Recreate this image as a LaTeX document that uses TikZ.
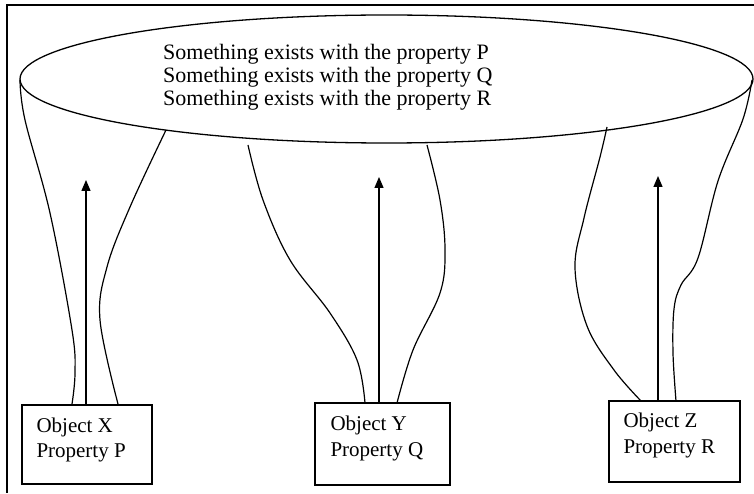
\documentclass[tikz,border=0pt]{standalone}
\usepackage{fontspec}
\setmainfont{Liberation Serif}
\usetikzlibrary{shapes.geometric,arrows.meta}
\begin{document}
\begin{tikzpicture}[x=1pt,y=1pt,
  strand/.style={line width=1.2pt, line join=round},
  objbox/.style={draw, line width=1.4pt, rectangle, inner sep=0pt},
  lbl/.style={font=\fontsize{21}{25.5}\selectfont, align=left, inner sep=0pt},
  elbl/.style={font=\fontsize{22}{22.8}\selectfont, align=left, inner sep=0pt},
  uparrow/.style={line width=1.3pt, -{Triangle[length=11pt,width=9pt]}},
  frameline/.style={line width=1.2pt}]
\useasboundingbox (0,0) rectangle (754,493);
% frame (top and left)
\coordinate (fa) at (754,488);
\coordinate (fb) at (7,488);
\coordinate (fc) at (7,0);
\draw[frameline] (fa) -- (fb) -- (fc);
% ellipse
\node[draw, ellipse, line width=1.3pt, minimum width=733pt, minimum height=128pt, inner sep=0pt] (ell) at (386.5,414) {};
\node[elbl, anchor=west] (etext) at (163,416) {Something exists with the property P\\Something exists with the property Q\\Something exists with the property R};
% boxes
\node[objbox, minimum width=130pt, minimum height=79pt] (bx) at (87,48.5) {};
\node[objbox, minimum width=135pt, minimum height=82pt] (by) at (382.5,49) {};
\node[objbox, minimum width=131pt, minimum height=81pt] (bz) at (674.5,51.5) {};
\node[lbl, anchor=north west] (tx) at ([xshift=15pt,yshift=-13pt]bx.north west) {Object X\\Property P};
\node[lbl, anchor=north west] (ty) at ([xshift=16pt,yshift=-13.5pt]by.north west) {Object Y\\Property Q};
\node[lbl, anchor=north west] (tz) at ([xshift=15pt,yshift=-12.5pt]bz.north west) {Object Z\\Property R};
% arrows
\coordinate (ax) at (86,313);
\coordinate (ay) at (379,316);
\coordinate (az) at (658,317);
\draw[uparrow] (bx.north -| ax) -- (ax);
\draw[uparrow] (by.north -| ay) -- (ay);
\draw[uparrow] (bz.north -| az) -- (az);
% strands for X
\draw[strand] plot[smooth, tension=0.6] coordinates {(20,413) (25,373) (50,280) (72,163) (75,120) (72,89)};
\draw[strand] plot[smooth, tension=0.6] coordinates {(166,363) (130,286) (107,226) (100,173) (118,89)};
% strands for Y
\draw[strand] plot[smooth, tension=0.6] coordinates {(248,348) (263,293) (290,233) (330,180) (357,133) (365,90)};
\draw[strand] plot[smooth, tension=0.6] coordinates {(427,348) (440,293) (445,243) (440,200) (413,143) (397,90)};
% strands for Z
\draw[strand] plot[smooth, tension=0.6] coordinates {(607,366) (600,336) (584,275) (575,225) (587,167) (614,123) (641,92)};
\draw[strand] plot[smooth, tension=0.6] coordinates {(752,413) (743,374) (718,312) (698,235) (681,208) (674,184) (673,140) (676,92)};
\end{tikzpicture}
\end{document}
